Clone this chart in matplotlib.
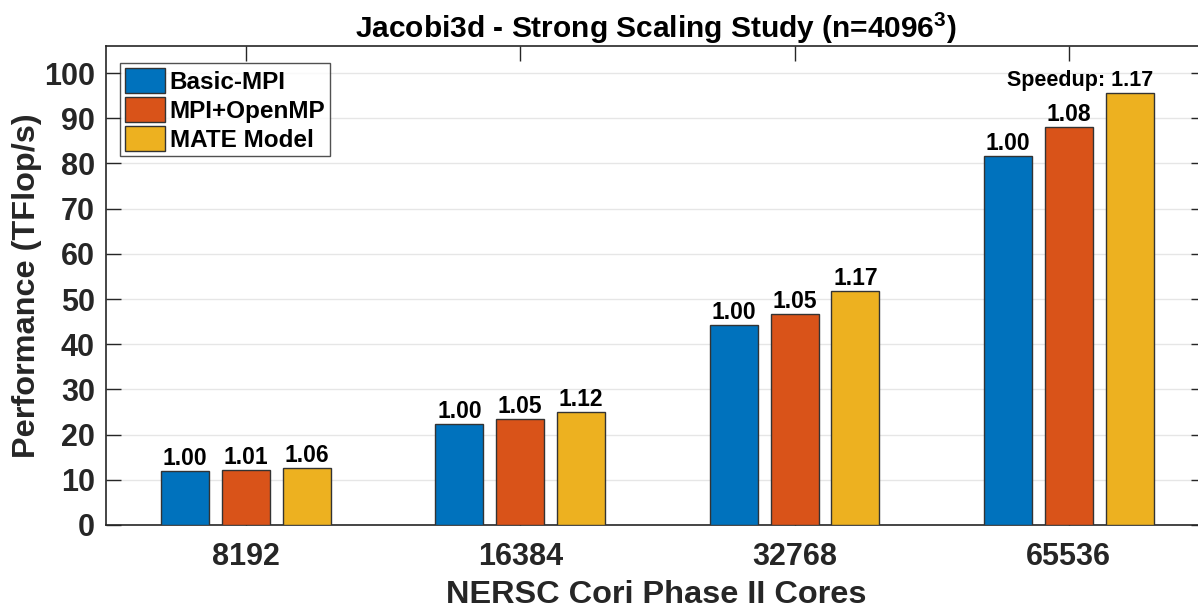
import matplotlib
matplotlib.use("Agg")
import matplotlib.pyplot as plt
import numpy as np

plt.rcParams['font.family'] = ['Liberation Sans', 'DejaVu Sans']
plt.rcParams['mathtext.fontset'] = 'custom'
plt.rcParams['mathtext.rm'] = 'Liberation Sans'
plt.rcParams['mathtext.bf'] = 'Liberation Sans:bold'

categories = ["8192", "16384", "32768", "65536"]
series_names = ["Basic-MPI", "MPI+OpenMP", "MATE Model"]
basic_mpi = [11.9, 22.3, 44.2, 81.6]
mpi_openmp = [12.1, 23.5, 46.7, 88.0]
mate_model = [12.6, 25.1, 51.8, 95.6]
labels_basic = ["1.00", "1.00", "1.00", "1.00"]
labels_openmp = ["1.01", "1.05", "1.05", "1.08"]
labels_mate = ["1.06", "1.12", "1.17", "1.17"]
yticks = [0, 10, 20, 30, 40, 50, 60, 70, 80, 90, 100]

colors = ["#0072BD", "#D95319", "#EDB120"]
edge = "#333333"

fig = plt.figure(figsize=(11.98, 6.12), dpi=100)
ax = fig.add_axes([106/1198, 1 - 525/612, (1206 - 106)/1198, (525 - 46)/612])

x = np.arange(1, len(categories) + 1)
off = 0.222
w = 0.175
series = [basic_mpi, mpi_openmp, mate_model]
labels = [labels_basic, labels_openmp, labels_mate]
for i, (vals, labs) in enumerate(zip(series, labels)):
    xs = x + (i - 1) * off
    bars = ax.bar(xs, vals, w, color=colors[i], edgecolor=edge, linewidth=1.0,
                  label=series_names[i], zorder=3)
    for j, (b, lab) in enumerate(zip(bars, labs)):
        if i == 2 and j == len(categories) - 1:
            ax.text(b.get_x() + b.get_width(), b.get_height() + 0.5, "Speedup: " + lab,
                    ha='right', va='bottom', fontsize=15.5, fontweight='bold', zorder=4)
        else:
            ax.text(b.get_x() + b.get_width() / 2, b.get_height() + 0.2, lab,
                    ha='center', va='bottom', fontsize=16.5, fontweight='bold', zorder=4)

ax.set_xlim(0.49, 4.5)
ax.set_ylim(0, 106)
ax.set_xticks(x)
ax.set_xticklabels(categories, fontsize=22, fontweight='bold')
ax.set_yticks(yticks)
ax.set_yticklabels([str(t) for t in yticks], fontsize=22, fontweight='bold')
ax.tick_params(direction='in', length=11, width=1, color='#262626', top=True, right=True,
               labelcolor='#262626')
ax.tick_params(axis='x', pad=12)
ax.tick_params(axis='y', pad=8)
ax.grid(axis='y', color='#e6e6e6', linewidth=1, zorder=0)
ax.set_axisbelow(True)
for s in ax.spines.values():
    s.set_color('#262626')
    s.set_linewidth(1.2)

ax.set_xlabel("NERSC Cori Phase II Cores", fontsize=23.4, fontweight='bold', color='#262626', labelpad=6)
ax.set_ylabel("Performance (TFlop/s)", fontsize=23.4, fontweight='bold', color='#262626', labelpad=1)
ax.set_title(r"Jacobi3d - Strong Scaling Study (n=4096$^{\mathbf{3}}$)", fontsize=21.5,
             fontweight='bold', color='black', pad=6)

leg = ax.legend(loc='upper left', bbox_to_anchor=(0.0127, 0.965), fontsize=17.5, frameon=True,
                fancybox=False, edgecolor='#262626', handlelength=1.65, handleheight=1.25,
                handletextpad=0.2, borderpad=0.2, labelspacing=0.12, borderaxespad=0)
leg.get_frame().set_linewidth(1.0)
for t in leg.get_texts():
    t.set_fontweight('bold')

fig.savefig("out.png", dpi=100)
